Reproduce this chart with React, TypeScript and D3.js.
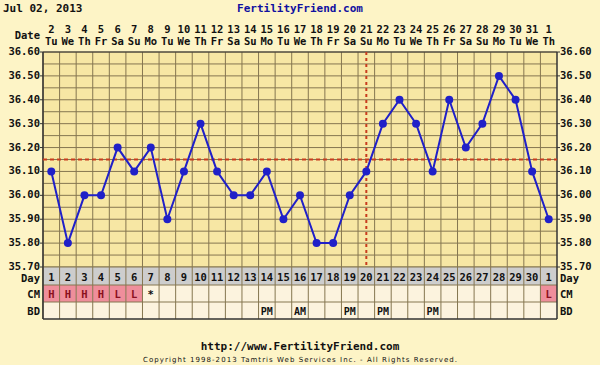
import React from 'react';
import * as d3 from 'd3';

// chart data
const dates = ['2','3','4','5','6','7','8','9','10','11','12','13','14','15','16','17','18','19','20','21','22','23','24','25','26','27','28','29','30','31','1'];
const weekdays = ['Tu','We','Th','Fr','Sa','Su','Mo','Tu','We','Th','Fr','Sa','Su','Mo','Tu','We','Th','Fr','Sa','Su','Mo','Tu','We','Th','Fr','Sa','Su','Mo','Tu','We','Th'];
const cycleDays = ['1','2','3','4','5','6','7','8','9','10','11','12','13','14','15','16','17','18','19','20','21','22','23','24','25','26','27','28','29','30','1'];
const temps = [36.1, 35.8, 36.0, 36.0, 36.2, 36.1, 36.2, 35.9, 36.1, 36.3, 36.1, 36.0, 36.0, 36.1, 35.9, 36.0, 35.8, 35.8, 36.0, 36.1, 36.3, 36.4, 36.3, 36.1, 36.4, 36.2, 36.3, 36.5, 36.4, 36.1, 35.9];
const cm = ['H','H','H','H','L','L','*','','','','','','','','','','','','','','','','','','','','','','','','L'];
const bd = ['','','','','','','','','','','','','','PM','','AM','','','PM','','PM','','','PM','','','','','','',''];
const tempTicks = [36.6, 36.5, 36.4, 36.3, 36.2, 36.1, 36.0, 35.9, 35.8, 35.7];
const coverline = 36.15;
const ovulationDay = 20;

const W = 600;
const H = 365;
const left = 43;
const right = 557;
const top = 52;
const bottom = 267;

const mono = '"DejaVu Sans Mono", monospace';
const gridColor = '#857650';
const red = '#c83c1e';
const blue = '#2020c8';

export default function App() {
  const x = d3.scaleBand<number>().domain(d3.range(dates.length)).range([left, right]);
  const y = d3.scaleLinear().domain([35.7, 36.6]).range([bottom, top]);
  const cx = (i: number) => (x(i) as number) + x.bandwidth() / 2;

  const line = d3.line<number>().x((d, i) => cx(i)).y(d => y(d));
  const hLines = d3.range(35.7, 36.6001, 0.05);
  const rowDay = [bottom, bottom + 18];
  const rowCM = [bottom + 18, bottom + 35];
  const rowBD = [bottom + 35, bottom + 52];
  const cols = d3.range(dates.length);

  return (
    <svg width={W} height={H} style={{ position: 'absolute', left: 0, top: 0 }} fontFamily={mono} fontWeight="bold">
      <rect width={W} height={H} fill="#fdf4c6" />

      <text x={3} y={12} fontSize={11} fill="#111">Jul 02, 2013</text>
      <text x={300} y={12} fontSize={11} fill="#1010a0" textAnchor="middle">FertilityFriend.com</text>

      {/* date header */}
      <text x={40} y={39} fontSize={10.5} textAnchor="end" fill="#111">Date</text>
      {cols.map(i => (
        <g key={'d' + i}>
          <text x={cx(i)} y={33} fontSize={10.5} textAnchor="middle" fill="#111">{dates[i]}</text>
          <text x={cx(i)} y={45} fontSize={10.5} textAnchor="middle" fill="#111">{weekdays[i]}</text>
        </g>
      ))}

      {/* plot area */}
      <rect x={left} y={top} width={right - left} height={bottom - top} fill="#f7e7a4" />
      {hLines.map((v, i) => (
        <line key={'h' + i} x1={left} x2={right} y1={y(v)} y2={y(v)} stroke={gridColor} strokeWidth={1} />
      ))}
      {cols.map(i => (
        <line key={'v' + i} x1={x(i)} x2={x(i)} y1={top} y2={rowBD[1]} stroke={gridColor} strokeWidth={1} />
      ))}
      {tempTicks.map(v => (
        <g key={'t' + v}>
          <line x1={left - 3} x2={left} y1={y(v)} y2={y(v)} stroke="#333" />
          <line x1={right} x2={right + 3} y1={y(v)} y2={y(v)} stroke="#333" />
          <text x={40} y={y(v) + 3} fontSize={10.5} textAnchor="end" fill="#111">{v.toFixed(2)}</text>
          <text x={560} y={y(v) + 3} fontSize={10.5} fill="#111">{v.toFixed(2)}</text>
        </g>
      ))}

      {/* rows below */}
      <rect x={left} y={rowDay[0]} width={right - left} height={rowDay[1] - rowDay[0]} fill="#cdcdcd" />
      <rect x={left} y={rowCM[0]} width={right - left} height={rowBD[1] - rowCM[0]} fill="#fcf3de" />
      {cols.map(i => cm[i] === 'H' || cm[i] === 'L' ? (
        <rect key={'p' + i} x={x(i)} y={rowCM[0]} width={x.bandwidth()} height={rowCM[1] - rowCM[0]} fill="#ef8e9b" />
      ) : null)}
      {cols.map(i => (
        <line key={'r' + i} x1={x(i)} x2={x(i)} y1={rowDay[0]} y2={rowBD[1]} stroke={gridColor} strokeWidth={1} />
      ))}
      {[rowDay[0], rowCM[0], rowBD[0]].map(v => (
        <line key={'rl' + v} x1={left} x2={right} y1={v} y2={v} stroke={gridColor} strokeWidth={1} />
      ))}
      <line x1={left} x2={right} y1={rowBD[1]} y2={rowBD[1]} stroke="#333" strokeWidth={1.5} />
      <line x1={left} x2={left} y1={top} y2={rowBD[1]} stroke="#333" strokeWidth={1.5} />
      <line x1={right} x2={right} y1={top} y2={rowBD[1]} stroke="#333" strokeWidth={1.5} />
      <line x1={left} x2={right} y1={top} y2={top} stroke="#333" strokeWidth={1} />

      {cols.map(i => (
        <g key={'c' + i} fontSize={10.5} textAnchor="middle" fill="#111">
          <text x={cx(i)} y={rowDay[0] + 14}>{cycleDays[i]}</text>
          <text x={cx(i)} y={rowCM[0] + 13} fill={cm[i] === '*' ? '#111' : '#8a1020'}>{cm[i]}</text>
          <text x={cx(i)} y={rowBD[0] + 13} fontSize={10}>{bd[i]}</text>
        </g>
      ))}
      <text x={40} y={rowDay[0] + 15} fontSize={10.5} textAnchor="end" fill="#111">Day</text>
      <text x={40} y={rowCM[0] + 13} fontSize={10.5} textAnchor="end" fill="#111">CM</text>
      <text x={40} y={rowBD[0] + 13} fontSize={10.5} textAnchor="end" fill="#111">BD</text>
      <text x={560} y={rowDay[0] + 15} fontSize={10.5} fill="#111">Day</text>
      <text x={560} y={rowCM[0] + 13} fontSize={10.5} fill="#111">CM</text>
      <text x={560} y={rowBD[0] + 13} fontSize={10.5} fill="#111">BD</text>

      {/* coverline and ovulation line */}
      <line x1={left} x2={right} y1={y(coverline)} y2={y(coverline)} stroke={red} strokeWidth={2} strokeDasharray="4,3" />
      <line x1={cx(ovulationDay - 1)} x2={cx(ovulationDay - 1)} y1={top} y2={bottom} stroke={red} strokeWidth={2} strokeDasharray="3,3" />

      {/* temperatures */}
      <path d={line(temps) || ''} fill="none" stroke={blue} strokeWidth={2} />
      {temps.map((t, i) => (
        <circle key={'pt' + i} cx={cx(i)} cy={y(t)} r={4} fill={blue} />
      ))}

      <text x={300} y={350} fontSize={11} textAnchor="middle" fill="#111">http://www.FertilityFriend.com</text>
      <text x={300} y={362} fontSize={7} textAnchor="middle" fill="#111" fontFamily='"DejaVu Sans", sans-serif' fontWeight="normal" textLength={314}>
        Copyright 1998-2013 Tamtris Web Services Inc. - All Rights Reserved.
      </text>
    </svg>
  );
}
